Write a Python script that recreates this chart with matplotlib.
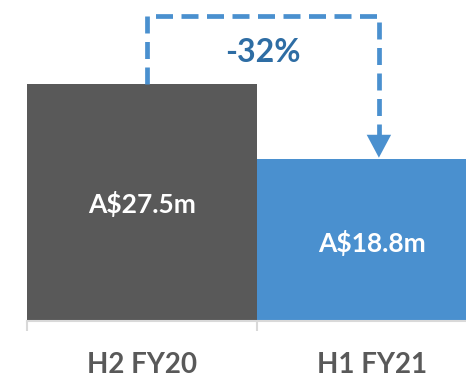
import matplotlib
matplotlib.use("Agg")
import matplotlib.pyplot as plt
from matplotlib import font_manager as fm

categories = ["H2 FY20", "H1 FY21"]
values = [27.5, 18.8]
value_labels = ["A$27.5m", "A$18.8m"]
change_label = "-32%"

colors = ["#595959", "#4A90CF"]

bold_path = None
for f in fm.fontManager.ttflist:
    if f.fname.endswith("Lato-Bold.ttf"):
        bold_path = f.fname
        break
if bold_path:
    def fp(size):
        return fm.FontProperties(fname=bold_path, size=size)
else:
    def fp(size):
        return fm.FontProperties(family="Lato", weight="bold", size=size)

W, H = 466, 377
fig = plt.figure(figsize=(W / 100, H / 100), dpi=100)

px_per_unit = 237 / values[0]
left_px, bottom_px, right_px = 27, 321, 487
ax = fig.add_axes([left_px / W, (H - bottom_px) / H, (right_px - left_px) / W, bottom_px / H])
ax.set_xlim(-0.5, 1.5)
ax.set_ylim(0, bottom_px / px_per_unit)

ax.bar(range(len(values)), values, width=1.0, color=colors, zorder=2)

offsets = [-1.2, -1.4]
for i, (v, lab) in enumerate(zip(values, value_labels)):
    ax.text(i, v / 2 + offsets[i], lab, ha="center", va="baseline", color="white",
            fontproperties=fp(19))

# spines / ticks
for s in ["top", "right", "left"]:
    ax.spines[s].set_visible(False)
ax.spines["bottom"].set_color("#D9D9D9")
ax.spines["bottom"].set_linewidth(1.5)
ax.set_yticks([])
ax.set_xticks(range(len(categories)))
ax.set_xticklabels(categories, color="#595959")
for t in ax.get_xticklabels():
    t.set_fontproperties(fp(20))
ax.tick_params(axis="x", which="major", length=0, pad=22)
ax.set_xticks([-0.5, 0.5, 1.5], minor=True)
ax.tick_params(axis="x", which="minor", length=7, width=1.5, color="#D9D9D9")

# dashed connector arrow
x1, x2 = 0.02, 1.03
ytop = (bottom_px - 16) / px_per_unit
head = 2.2
arrow_col = "#4A90CF"
ax.plot([x1, x1, x2, x2], [values[0], ytop, ytop, values[1] + head],
        linestyle=(0, (3.6, 1.8)), color=arrow_col, lw=3.4, solid_capstyle="butt",
        dash_capstyle="butt", zorder=3, clip_on=False)
ax.annotate("", xy=(x2, values[1] + 0.15), xytext=(x2, values[1] + head + 0.3),
            arrowprops=dict(arrowstyle="-|>,head_length=0.75,head_width=0.4", color=arrow_col,
                            lw=0, mutation_scale=22, shrinkA=0, shrinkB=0), zorder=3)
ax.text(0.525, ytop - 5.34, change_label, ha="center", va="baseline",
        color="#2E6DA4", fontproperties=fp(23))

fig.savefig("out.png", dpi=100)
